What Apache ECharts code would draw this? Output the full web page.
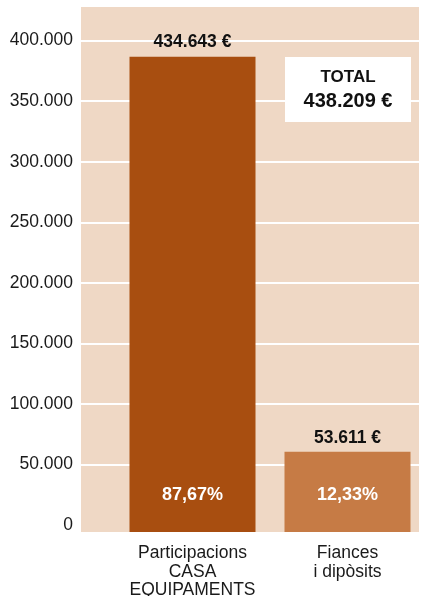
<!DOCTYPE html>
<html>
<head>
<meta charset="utf-8">
<script src="https://cdn.jsdelivr.net/npm/echarts@6/dist/echarts.min.js"></script>
<style>
  html, body { margin: 0; padding: 0; background: #fff; }
  #chart { width: 424px; height: 596px; }
</style>
</head>
<body>
<div id="chart"></div>
<script>
// dades
var categories = ['Participacions\nCASA\nEQUIPAMENTS', 'Fiances\ni dipòsits'];
var barValues = [386800, 60400];          // alçada de barra llegida a l'eix
var valueLabels = ['434.643 €', '53.611 €'];
var pctLabels = ['87,67%', '12,33%'];
var baseOffset = [-5800, -5800];           // la barra baixa una mica sota el 0
var yLabels = [0, 50000, 100000, 150000, 200000, 250000, 300000, 350000, 400000];
var yGridLines = [50000, 100000, 150000, 200000, 250000, 300000, 350000, 400000];
var barColors = ['#A84E10', '#C67B45'];
var totalTitle = 'TOTAL';
var totalValue = '438.209 €';

var Y_MIN = -5800, Y_MAX = 427800;
var FONT = '"Liberation Sans", Arial, Helvetica, sans-serif';

function fmtThousands(v) {
	return String(v).replace(/\B(?=(\d{3})+(?!\d))/g, '.');
}

function barItems(values) {
	return values.map(function(v, i) {
		return { value: v, itemStyle: { color: barColors[i] } };
	});
}

var myChart = echarts.init(document.getElementById('chart'));

var option = {
	animation: false,
	textStyle: { fontFamily: FONT },
	grid: [
		// fons + eix Y
		{ left: 81, right: 5, top: 7, bottom: 64, outerBoundsMode: 'none', show: true, backgroundColor: '#EFD8C5', borderWidth: 0 },
		// barres
		{ left: 115, right: -1, top: 7, bottom: 64, outerBoundsMode: 'none' }
	],
	xAxis: [
		{ gridIndex: 0, type: 'category', data: [''], show: false },
		{
			gridIndex: 1, type: 'category', data: categories,
			axisLine: { show: false, onZero: false }, axisTick: { show: false },
			axisLabel: { fontFamily: FONT, fontSize: 17.5, color: '#1a1a1a', lineHeight: 18.5, margin: 12, interval: 0 }
		}
	],
	yAxis: [
		{
			gridIndex: 0, type: 'value', min: Y_MIN, max: Y_MAX,
			axisLine: { show: false },
			axisTick: { show: false, customValues: yGridLines },
			axisLabel: { customValues: yLabels, fontFamily: FONT, fontSize: 17.5, color: '#1a1a1a', margin: 8, formatter: fmtThousands },
			splitLine: { show: true, lineStyle: { color: '#ffffff', width: 2 } }
		},
		{ gridIndex: 1, type: 'value', min: Y_MIN, max: Y_MAX, show: false, splitLine: { show: false } }
	],
	series: [
		{
			type: 'bar', xAxisIndex: 1, yAxisIndex: 1, stack: 'b', barWidth: 126, silent: true,
			data: barItems(baseOffset)
		},
		{
			type: 'bar', xAxisIndex: 1, yAxisIndex: 1, stack: 'b', barWidth: 126, silent: true,
			data: barItems(barValues),
			label: {
				show: true, position: 'insideBottom', distance: 21,
				fontFamily: FONT, fontSize: 18, fontWeight: 'bold', color: '#fff',
				formatter: function(p) { return pctLabels[p.dataIndex]; }
			}
		},
		{
			type: 'bar', xAxisIndex: 1, yAxisIndex: 1, barWidth: 126, barGap: '-100%', silent: true,
			data: barValues,
			itemStyle: { color: 'rgba(0,0,0,0)' },
			label: {
				show: true, position: 'top', distance: 5,
				fontFamily: FONT, fontSize: 17.5, fontWeight: 'bold', color: '#111',
				formatter: function(p) { return valueLabels[p.dataIndex]; }
			}
		}
	],
	graphic: [{
		type: 'group', left: 285, top: 57, z: 100,
		children: [
			{ type: 'rect', z: 100, shape: { x: 0, y: 0, width: 126, height: 65 }, style: { fill: '#fff' } },
			{ type: 'text', z: 101, x: 63, y: 20, style: { text: totalTitle, font: 'bold 17px ' + FONT, fill: '#111', align: 'center', verticalAlign: 'middle' } },
			{ type: 'text', z: 101, x: 63, y: 44, style: { text: totalValue, font: 'bold 20px ' + FONT, fill: '#111', align: 'center', verticalAlign: 'middle' } }
		]
	}]
};

myChart.setOption(option);
</script>
</body>
</html>
